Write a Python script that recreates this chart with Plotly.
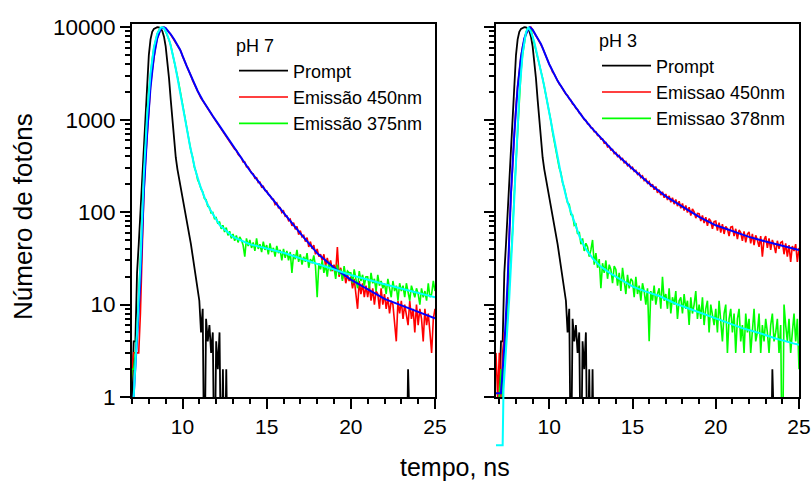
import plotly.graph_objects as go

# ---------------- data (photon counts per channel) ----------------
T0 = 6.8   # time of first channel, ns
DT = 0.1   # channel width, ns

PROMPT = [
    0, 0,
    1, 4, 4, 22, 45, 100, 240, 560, 1350, 2800,
    5000, 7400, 8900, 9600, 9900, 10000, 9950, 9700, 9100, 7900,
    6200, 4400, 2800, 1650, 950, 580, 390, 290, 230, 185,
    150, 122, 96, 76, 59, 45, 34, 26, 19, 15,
    11, 5, 9, 0, 7, 4, 6, 3, 5, 0,
    4, 2, 5, 0, 2, 0, 2, 0, 0, 0,
    0, 0, 0, 0, 0, 0, 0, 0, 0, 0,
    0, 0, 0, 0, 0, 0, 0, 0, 0, 0,
    0, 0, 0, 0, 0, 0, 0, 0, 0, 0,
    0, 0, 0, 0, 0, 0, 0, 0, 0, 0,
    0, 0, 0, 0, 0, 0, 0, 0, 0, 0,
    0, 0, 0, 0, 0, 0, 0, 0, 0, 0,
    0, 0, 0, 0, 0, 0, 0, 0, 0, 0,
    0, 0, 0, 0, 0, 0, 0, 0, 0, 0,
    0, 0, 0, 0, 0, 0, 0, 0, 0, 0,
    0, 0, 0, 0, 0, 0, 0, 0, 0, 0,
    0, 0, 0, 0, 2, 0, 0, 0, 0, 0,
    0, 0, 0, 0, 0, 0, 0, 0, 0, 0,
    0,
]

EM450_PH7 = [
    0, 1,
    2, 3, 3, 3, 3, 8, 40, 150, 360, 700,
    1400, 2300, 3400, 4800, 6200, 7600, 8700, 9500, 9900, 10000,
    9750, 9360, 8790, 8350, 7820, 7440, 6890, 6490, 5930, 5530,
    4870, 4450, 3950, 3660, 3280, 2980, 2660, 2420, 2230, 2030,
    1830, 1700, 1610, 1500, 1420, 1330, 1240, 1160, 1090, 1020,
    960, 890, 850, 790, 745, 700, 655, 625, 575, 545,
    522, 479, 466, 421, 404, 386, 349, 348, 309, 307,
    286, 264, 259, 233, 236, 209, 211, 186, 190, 171,
    170, 155, 151, 139, 138, 121, 126, 111, 112, 99,
    103, 90, 91, 81, 84, 71, 77, 65, 70, 57,
    63, 54, 56, 48, 53, 42, 48, 40, 44, 35,
    40, 33, 35, 30, 35, 26, 32, 26, 30, 23,
    27, 22, 42, 20, 25, 19, 23, 17, 21, 18,
    20, 15, 19, 14, 9, 18, 13, 17, 12, 16,
    12, 16, 11, 15, 10, 14, 13, 9, 15, 10,
    13, 9, 12, 8, 11, 10, 6, 4, 11, 8,
    11, 7, 10, 8, 6, 11, 7, 9, 5, 10,
    6, 9, 7, 4, 9, 6, 8, 5, 3, 7,
    9,
]

EM375_PH7 = [
    0, 1,
    2, 2, 3, 5, 12, 30, 95, 260, 600, 1150,
    2000, 3100, 4500, 6000, 7400, 8500, 9300, 9850, 10000, 9800,
    8930, 8170, 7330, 6380, 5330, 4280, 3620, 2930, 2370, 1860,
    1460, 1140, 925, 715, 585, 460, 395, 310, 274, 224,
    204, 178, 166, 141, 136, 116, 113, 98, 99, 85,
    87, 75, 79, 66, 72, 61, 68, 56, 62, 52,
    58, 49, 56, 47, 54, 50, 44, 33, 52, 43,
    50, 41, 47, 38, 52, 40, 45, 37, 48, 39,
    44, 35, 46, 37, 41, 33, 43, 36, 39, 30,
    40, 32, 38, 30, 37, 22, 35, 31, 39, 29,
    35, 27, 33, 29, 36, 25, 31, 28, 34, 26,
    12, 28, 24, 30, 22, 27, 20, 29, 23, 26,
    25, 19, 27, 21, 24, 18, 26, 20, 23, 22,
    22, 17, 24, 19, 15, 23, 18, 21, 16, 20,
    20, 15, 22, 17, 19, 14, 21, 16, 18, 15,
    17, 13, 19, 15, 12, 18, 14, 16, 11, 17,
    14, 16, 12, 17, 13, 11, 16, 14, 12, 15,
    13, 10, 15, 12, 14, 11, 17, 12, 13, 18,
    14,
]

EM450_PH3 = [
    3, 1,
    3, 1, 3, 5, 4, 18, 60, 150, 360, 700,
    1400, 2300, 3400, 4800, 6200, 7600, 8700, 9500, 9900, 10000,
    9410, 8850, 8090, 7540, 7040, 6650, 5990, 5400, 4810, 4390,
    3950, 3660, 3280, 3110, 2830, 2650, 2430, 2310, 2140, 2060,
    1890, 1825, 1680, 1620, 1480, 1435, 1320, 1290, 1180, 1150,
    1085, 1000, 985, 900, 890, 815, 810, 740, 740, 675,
    672, 615, 620, 556, 566, 508, 516, 470, 476, 430,
    440, 398, 409, 370, 380, 342, 352, 318, 328, 296,
    305, 276, 283, 255, 264, 236, 246, 220, 229, 205,
    214, 188, 200, 175, 189, 162, 175, 153, 166, 143,
    157, 135, 150, 128, 143, 122, 137, 116, 131, 110,
    124, 104, 118, 99, 113, 92, 108, 101, 86, 97,
    96, 80, 92, 76, 88, 71, 85, 80, 66, 79,
    80, 63, 77, 60, 74, 58, 70, 66, 55, 69,
    70, 55, 66, 51, 64, 60, 49, 62, 47, 58,
    61, 46, 58, 44, 56, 50, 42, 55, 33, 50,
    55, 41, 52, 39, 50, 44, 36, 49, 40, 47,
    48, 35, 46, 33, 44, 29, 43, 38, 45, 29,
    41,
]

EM378_PH3 = [
    1, 0,
    1, 2, 1, 3, 4, 8, 14, 30, 65, 160,
    370, 900, 1900, 3300, 5100, 7000, 8700, 9700, 9950, 9400,
    7960, 6890, 5850, 4870, 4100, 3360, 2820, 2270, 1860, 1460,
    1180, 965, 730, 585, 455, 380, 300, 265, 208, 184,
    156, 126, 121, 94, 93, 72, 74, 58, 61, 45,
    52, 38, 46, 42, 33, 39, 50, 27, 36, 25,
    31, 15, 28, 22, 30, 19, 27, 24, 17, 26,
    24, 16, 22, 14, 25, 18, 13, 21, 15, 19,
    18, 12, 20, 13, 16, 11, 17, 14, 10, 15,
    4, 14, 11, 16, 10, 13, 15, 9, 20, 11,
    13, 9, 15, 8, 12, 10, 14, 7, 11, 12,
    8, 13, 9, 11, 6, 12, 8, 10, 14, 7,
    10, 7, 12, 6, 9, 11, 5, 10, 8, 6,
    9, 5, 11, 7, 4, 8, 10, 3, 7, 9,
    5, 8, 3, 7, 9, 4, 6, 3, 8, 5,
    7, 3, 6, 9, 4, 5, 8, 3, 6, 4,
    7, 5, 3, 6, 8, 4, 5, 7, 3, 6,
    0, 10, 6, 4, 7, 3, 5, 8, 4, 7,
    2,
]

# fitted curves (time, counts)
FIT450_PH7_T = [7.0, 7.1, 7.3, 7.5, 7.7, 7.9, 8.1, 8.3, 8.5, 8.7, 8.8, 8.9, 9.0, 9.1,
                9.3, 9.5, 9.85, 10.25, 10.6, 10.9, 11.2, 11.5, 11.8, 12.1, 12.5, 13,
                14, 15, 16, 17, 18, 19, 20, 21, 22, 23, 24, 25]
FIT450_PH7_Y = [0.5, 1.0, 3.5, 18, 160, 710, 2240, 4790, 7590, 9550, 9850, 10000, 9800, 9330,
                8400, 7410, 5750, 3800, 2690, 2042, 1622, 1318, 1096, 912, 716, 531,
                282, 166, 98, 59, 36, 25, 18.6, 14.5, 11.5, 9.8, 8.3, 7.1]

FIT375_PH7_T = [7.0, 7.1, 7.3, 7.5, 7.7, 7.9, 8.1, 8.3, 8.5, 8.7, 8.8, 8.9, 9.05, 9.26,
                9.55, 9.85, 10.14, 10.44, 10.74, 11.04, 11.33, 11.63, 12.22, 13, 14,
                16, 18, 19, 20, 22, 25]
FIT375_PH7_Y = [0.63, 1.0, 5.0, 28, 251, 1122, 3162, 6026, 8511, 9886, 10000, 9772, 8710, 6761,
                3981, 2089, 1047, 525, 295, 195, 141, 107, 72, 54, 45,
                36.3, 27.5, 23.7, 20.9, 16.6, 12.0]

FIT450_PH3_T = [6.8, 7.1, 7.3, 7.5, 7.7, 7.9, 8.1, 8.3, 8.5, 8.7, 8.77, 8.84, 8.92, 9.0,
                9.2, 9.5, 10, 10.5, 11, 11.5, 12, 12.5, 13, 13.5, 14, 15, 16, 17, 18,
                19, 20, 21, 22, 23, 24, 25]
FIT450_PH3_Y = [1.1, 1.1, 3.5, 18, 160, 710, 2240, 4790, 7590, 9550, 9850, 10000, 9800, 9440,
                8130, 6610, 3980, 2630, 1905, 1413, 1072, 832, 661, 525, 427, 295, 204, 148, 115,
                89, 72, 62, 54, 48, 43, 39]

FIT378_PH3_T = [6.75, 7.2, 7.25, 7.4, 7.6, 7.8, 8.0, 8.2, 8.4, 8.6, 8.74, 8.9, 9.1, 9.3,
                9.5, 9.7, 9.9, 10.1, 10.3, 10.5, 10.7, 10.9, 11.05, 11.3, 11.6, 11.85,
                12.2, 12.65, 13.1, 13.65, 14.3, 15.05, 15.8, 16.65, 17.6, 18.65, 19.6,
                20.66, 21.6, 22.66, 23.6, 24.66, 25]
FIT378_PH3_Y = [0.3, 0.3, 1.2, 3.0, 12, 60, 350, 1900, 5200, 8800, 10000, 8910, 6918, 4898,
                3388, 2291, 1479, 955, 575, 372, 257, 178, 138, 100, 69, 52.5,
                39.8, 30.9, 25.7, 21.9, 18.6, 15.5, 13.8, 12.3, 10.2, 8.7, 7.4,
                6.3, 5.56, 4.9, 4.3, 3.8, 3.67]

X_TICKS = [10, 15, 20, 25]
Y_TICKS = [1, 10, 100, 1000, 10000]
Y_TICK_LABELS = ["1", "10", "100", "1000", "10000"]

LEGEND_PH7 = ["Prompt", "Emissão 450nm", "Emissão 375nm"]
LEGEND_PH3 = ["Prompt", "Emissao 450nm", "Emissao 378nm"]

for s in (PROMPT, EM450_PH7, EM375_PH7, EM450_PH3, EM378_PH3):
    assert len(s) == 183, len(s)

t = [round(T0 + DT * i, 2) for i in range(len(PROMPT))]


def shown(counts):
    # empty channels are drawn down to below the axis (log scale)
    return [c if c > 0 else 0.1 for c in counts]


# ---------------- layout geometry ----------------
FONT = "Liberation Sans, Arial, sans-serif"
W, H = 811, 485
ML, MR, MT, MB = 132, 12, 24, 15
PW, PH = W - ML - MR, H - MT - MB
LEFT_FRAME = (132, 435)
RIGHT_FRAME = (496, 799)
BOTTOM_PX = 397
xdom_l = [(LEFT_FRAME[0] - ML) / PW, (LEFT_FRAME[1] - ML) / PW]
xdom_r = [(RIGHT_FRAME[0] - ML) / PW, (RIGHT_FRAME[1] - ML) / PW]
ydom = [(H - MB - BOTTOM_PX) / PH, 1]
Y_RANGE = [0, 4.035]
X_RANGE_L = [7, 25]
X_RANGE_R = [6.8, 25]
ppd = (BOTTOM_PX - MT) / (Y_RANGE[1] - Y_RANGE[0])
Y3_RANGE = [Y_RANGE[1] - PH / ppd, Y_RANGE[1]]

MINOR_Y = [m * 10 ** k for k in range(4) for m in range(2, 10)]

RED, GREEN, BLUE, CYAN = "#FF0000", "#00FF00", "#0000FF", "#00FFFF"


def px_x(p):
    return (p - ML) / PW


def px_y(p):
    return (H - MB - p) / PH


fig = go.Figure()


def add(x, y, color, xa, ya, name=None, legend=None, width=1.6):
    fig.add_trace(go.Scatter(
        x=x, y=y, mode="lines", name=name or "",
        line=dict(color=color, width=width),
        xaxis=xa, yaxis=ya,
        showlegend=name is not None, legend=legend or "legend",
        hoverinfo="skip",
    ))


# left panel: pH 7
add(t, shown(PROMPT), "black", "x", "y", LEGEND_PH7[0], "legend", 1.8)
add(t, shown(EM450_PH7), RED, "x", "y", LEGEND_PH7[1], "legend")
add(t, shown(EM375_PH7), GREEN, "x", "y", LEGEND_PH7[2], "legend")
add(FIT450_PH7_T, FIT450_PH7_Y, BLUE, "x", "y", width=2)
add(FIT375_PH7_T, FIT375_PH7_Y, CYAN, "x", "y", width=2)

# right panel: pH 3
add(t, shown(PROMPT), "black", "x2", "y2", LEGEND_PH3[0], "legend2", 1.8)
add(t, shown(EM450_PH3), RED, "x2", "y2", LEGEND_PH3[1], "legend2")
add(t, shown(EM378_PH3), GREEN, "x2", "y2", LEGEND_PH3[2], "legend2")
add(FIT450_PH3_T, FIT450_PH3_Y, BLUE, "x2", "y2", width=2)
# this fit is drawn unclipped below the frame, as in the original
add(FIT378_PH3_T, FIT378_PH3_Y, CYAN, "x3", "y3", width=2)

xtickfont = dict(family=FONT, size=21, color="black")
ytickfont = dict(family=FONT, size=22.5, color="black")
base = dict(showline=True, linewidth=2, linecolor="black", showgrid=False,
            zeroline=False, ticks="outside", tickwidth=2, tickcolor="black",
            automargin=False, mirror=True)

xmain = dict(base, tickfont=xtickfont, tickmode="array", tickvals=X_TICKS, ticklen=10,
             minor=dict(tick0=0, dtick=1, ticks="outside", ticklen=5,
                        tickwidth=1.5, tickcolor="black", showgrid=False))
ymain = dict(base, tickfont=ytickfont, type="log", range=Y_RANGE, domain=ydom,
             tickmode="array", tickvals=Y_TICKS, ticktext=Y_TICK_LABELS, ticklen=10,
             minor=dict(tickmode="array", tickvals=MINOR_Y, ticks="outside",
                        ticklen=5, tickwidth=1.5, tickcolor="black", showgrid=False))
# short mirrored ticks on the top and right edges
xtop = dict(showline=False, showgrid=False, zeroline=False, automargin=False,
            side="top", tickmode="linear", tick0=0, dtick=1, ticks="outside",
            ticklen=3, tickwidth=1.5, tickcolor="black", showticklabels=False)
yright = dict(showline=False, showgrid=False, zeroline=False, automargin=False,
              type="log", range=Y_RANGE, side="right", tickmode="array",
              tickvals=Y_TICKS, ticks="outside", ticklen=3, tickwidth=1.5,
              tickcolor="black", showticklabels=False,
              minor=dict(tickmode="array", tickvals=MINOR_Y, ticks="outside",
                         ticklen=2, tickwidth=1.2, tickcolor="black", showgrid=False))

legend_common = dict(xanchor="left", yanchor="top", bgcolor="rgba(0,0,0,0)",
                     borderwidth=0, font=dict(family=FONT, size=18, color="black"),
                     itemwidth=49, tracegroupgap=0)

fig.update_layout(
    width=W, height=H,
    margin=dict(l=ML, r=MR, t=MT, b=MB, pad=0, autoexpand=False),
    paper_bgcolor="white", plot_bgcolor="rgba(0,0,0,0)",
    font=dict(family=FONT, color="black"),
    xaxis=dict(xmain, domain=xdom_l, range=X_RANGE_L, anchor="y"),
    yaxis=dict(ymain, anchor="x"),
    xaxis2=dict(xmain, domain=xdom_r, range=X_RANGE_R, anchor="y2"),
    yaxis2=dict(ymain, anchor="x2", showticklabels=False),
    xaxis3=dict(domain=xdom_r, range=X_RANGE_R, anchor="y3", visible=False,
                automargin=False),
    yaxis3=dict(type="log", domain=[0, 1], range=Y3_RANGE, anchor="x3", visible=False,
                automargin=False),
    xaxis4=dict(xtop, overlaying="x", anchor="y", range=X_RANGE_L),
    xaxis5=dict(xtop, overlaying="x2", anchor="y2", range=X_RANGE_R),
    yaxis4=dict(yright, overlaying="y", anchor="x"),
    yaxis5=dict(yright, overlaying="y2", anchor="x2"),
    legend=dict(legend_common, x=px_x(234), y=px_y(29),
                title=dict(text="pH 7", font=dict(family=FONT, size=18))),
    legend2=dict(legend_common, x=px_x(597), y=px_y(24),
                 title=dict(text="pH 3", font=dict(family=FONT, size=18))),
    annotations=[
        dict(text="Número de fotóns", xref="paper", yref="paper",
             x=px_x(23), y=px_y(217), textangle=-90,
             showarrow=False, xanchor="center", yanchor="middle",
             font=dict(family=FONT, size=26, color="black")),
        dict(text="tempo, ns", xref="paper", yref="paper",
             x=px_x(455), y=px_y(467),
             showarrow=False, xanchor="center", yanchor="middle",
             font=dict(family=FONT, size=25, color="black")),
    ],
)

# remove the browser's default page margin so the figure sits at the top-left corner
fig.write_html("out.html",
               config={"displayModeBar": False},
               post_script="document.body.style.margin='0px';"
                           "document.body.style.overflow='hidden';")
